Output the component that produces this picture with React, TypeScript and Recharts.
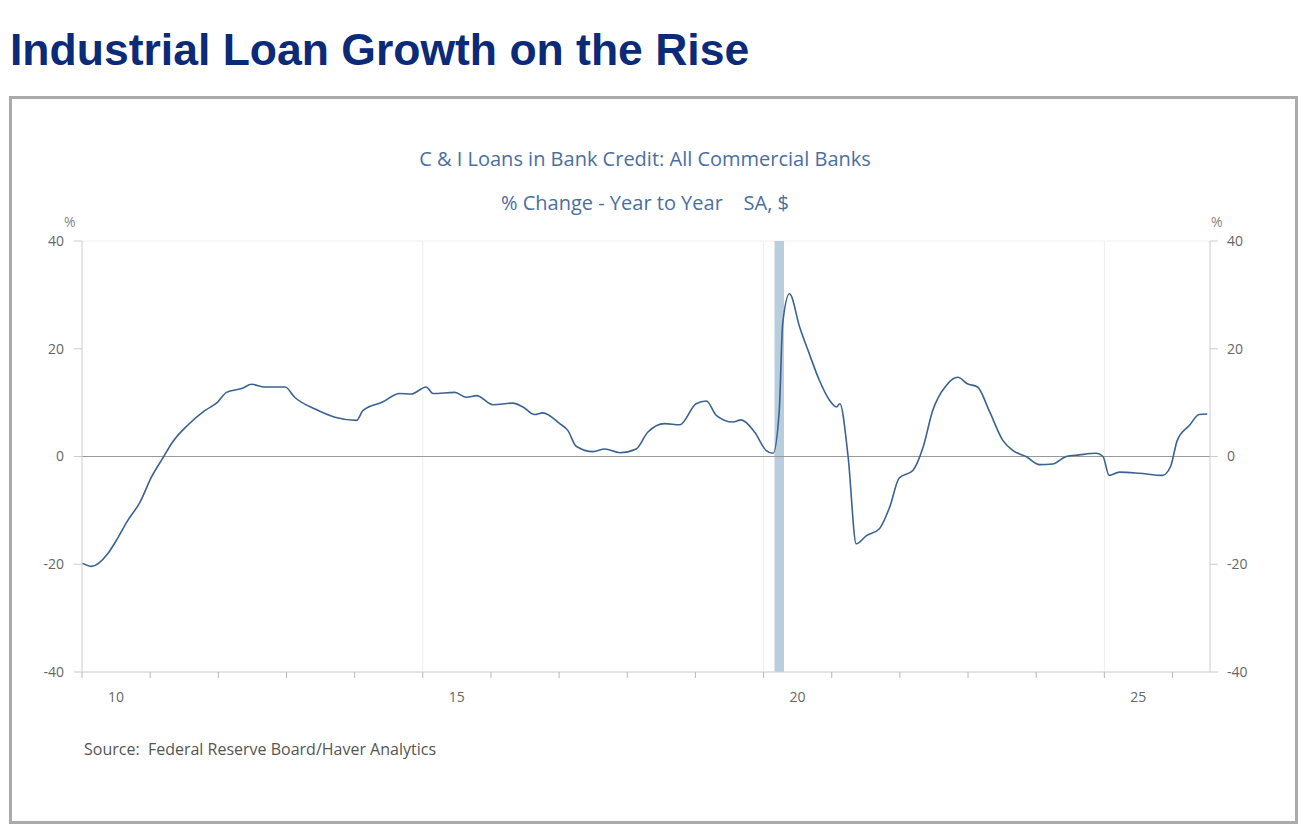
import React from "react";
import {
  LineChart,
  Line,
  XAxis,
  YAxis,
  CartesianGrid,
  ReferenceLine,
  ReferenceArea,
} from "recharts";

// time as decimal year
const dates = [
  2010.0, 2010.14, 2010.38, 2010.53, 2010.67, 2010.85, 2011.02, 2011.19, 2011.33, 2011.55,
  2011.8, 2011.99, 2012.12, 2012.34, 2012.49, 2012.68, 2012.98, 2013.12, 2013.42, 2013.71,
  2014.03, 2014.12, 2014.41, 2014.66, 2014.83, 2015.05, 2015.15, 2015.47, 2015.64, 2015.79,
  2016.03, 2016.32, 2016.47, 2016.64, 2016.76, 2017.01, 2017.13, 2017.25, 2017.5, 2017.67,
  2017.89, 2018.13, 2018.3, 2018.55, 2018.77, 2019.01, 2019.16, 2019.31, 2019.55, 2019.67,
  2019.87, 2020.04, 2020.14, 2020.23, 2020.28, 2020.38, 2020.53, 2020.67, 2020.82, 2020.97,
  2021.07, 2021.12, 2021.24, 2021.36, 2021.51, 2021.7, 2021.85, 2021.99, 2022.19, 2022.34,
  2022.48, 2022.68, 2022.85, 2022.99, 2023.14, 2023.31, 2023.51, 2023.66, 2023.85, 2024.05,
  2024.24, 2024.44, 2024.63, 2024.88, 2024.98, 2025.07, 2025.22, 2025.51, 2025.85, 2025.97,
  2026.07, 2026.25, 2026.39, 2026.51,
];

// C&I loans, % change year to year
const ciLoans = [
  -19.8, -20.4, -18.0, -15.0, -11.9, -8.5, -3.8, -0.2, 2.7, 5.8,
  8.5, 10.1, 11.9, 12.6, 13.4, 12.9, 12.9, 11.0, 8.8, 7.3,
  6.7, 8.5, 10.1, 11.7, 11.6, 12.9, 11.7, 11.9, 11.0, 11.3,
  9.6, 9.9, 9.2, 7.8, 8.1, 6.1, 4.8, 1.9, 0.9, 1.4,
  0.7, 1.4, 4.5, 6.1, 5.9, 9.8, 10.3, 7.6, 6.4, 6.8,
  4.5, 1.1, 0.6, 8.5, 24.6, 30.2, 24.0, 19.1, 14.1, 10.4,
  9.2, 9.8, 0.0, -16.2, -14.7, -13.4, -9.4, -4.0, -2.6, 1.7,
  8.5, 13.2, 14.7, 13.5, 12.9, 8.5, 3.0, 1.1, 0.0, -1.5,
  -1.4, 0.0, 0.3, 0.6, 0.0, -3.5, -2.9, -3.1, -3.5, -1.9,
  3.0, 5.8, 7.8, 7.9,
];

const yearTicks = [2010, 2011, 2012, 2013, 2014, 2015, 2016, 2017, 2018, 2019, 2020, 2021, 2022, 2023, 2024, 2025, 2026];
const labelYears: Record<number, string> = { 2010: "10", 2015: "15", 2020: "20", 2025: "25" };
const gridYears = [2015, 2020, 2025];
const yTicks = [-40, -20, 0, 20, 40];
const recession = [2020.16, 2020.3];

const data = dates.map((t, i) => ({ t, v: ciLoans[i] }));

const font = "'Open Sans', 'Noto Sans', sans-serif";
const tickStyle = { fontSize: 14, fill: "#666", fontFamily: font };
const HALF_YEAR = 34; // labels sit in the middle of the year

function YearTick(props: any) {
  const { x, y, payload } = props;
  const label = labelYears[payload.value];
  return (
    <g>
      <line x1={x} x2={x} y1={y - 8} y2={y - 2} stroke="#b8b8b8" />
      {label ? (
        <text x={x + HALF_YEAR} y={y + 22} textAnchor="middle" {...tickStyle}>
          {label}
        </text>
      ) : null}
    </g>
  );
}

export default function App() {
  return (
    <div style={{ position: "absolute", left: 0, top: 0, width: 1306, height: 832, background: "#fff" }}>
      <div
        style={{
          position: "absolute",
          left: 10,
          top: 25,
          fontFamily: "'Liberation Sans', Arial, sans-serif",
          fontWeight: 700,
          fontSize: 44.5,
          color: "#0b2a78",
          whiteSpace: "nowrap",
        }}
      >
        Industrial Loan Growth on the Rise
      </div>
      <div
        style={{
          position: "absolute",
          left: 9,
          top: 96,
          width: 1283,
          height: 722,
          border: "3px solid #aaa",
        }}
      />
      <div style={{ position: "absolute", left: 0, width: 1290, top: 145, textAlign: "center", fontFamily: font, fontSize: 20, color: "#4a6f9f" }}>
        C &amp; I Loans in Bank Credit: All Commercial Banks
      </div>
      <div style={{ position: "absolute", left: 0, width: 1290, top: 189, textAlign: "center", fontFamily: font, fontSize: 20, color: "#4a6f9f", whiteSpace: "pre" }}>
        {"% Change - Year to Year    SA, $"}
      </div>
      <div style={{ position: "absolute", left: 64, top: 212, fontFamily: font, fontSize: 14, color: "#888" }}>%</div>
      <div style={{ position: "absolute", left: 1211, top: 212, fontFamily: font, fontSize: 14, color: "#888" }}>%</div>
      <div style={{ position: "absolute", left: 84, top: 738, fontFamily: font, fontSize: 16, color: "#555", whiteSpace: "pre" }}>
        {"Source:  Federal Reserve Board/Haver Analytics"}
      </div>

      <div style={{ position: "absolute", left: 0, top: 0 }}>
        <LineChart width={1306} height={832} data={data} margin={{ top: 241, right: 56, bottom: 130, left: 42 }}>
          <CartesianGrid vertical={false} stroke="#f0f0f0" />
          <XAxis
            dataKey="t"
            type="number"
            domain={[2010, 2026.55]}
            ticks={yearTicks}
            allowDataOverflow
            height={30}
            stroke="#d0d0d0"
            tickLine={false}
            tick={<YearTick />}
            interval={0}
          />
          <YAxis
            yAxisId="left"
            domain={[-40, 40]}
            ticks={yTicks}
            width={40}
            stroke="#ccc"
            tickSize={8}
            tick={tickStyle}
            tickMargin={10}
          />
          <YAxis
            yAxisId="right"
            orientation="right"
            domain={[-40, 40]}
            ticks={yTicks}
            width={40}
            stroke="#ccc"
            tickSize={8}
            tick={tickStyle}
            tickMargin={9}
          />
          {gridYears.map((y) => (
            <ReferenceLine key={y} x={y} yAxisId="left" stroke="#eeeeee" />
          ))}
          <ReferenceArea x1={recession[0]} x2={recession[1]} yAxisId="left" fill="#b9cedc" fillOpacity={1} stroke="none" />
          <ReferenceLine y={0} yAxisId="left" stroke="#999" />
          <Line
            yAxisId="right"
            dataKey="v"
            type="monotone"
            stroke="none"
            strokeOpacity={0}
            dot={false}
            activeDot={false}
            legendType="none"
            isAnimationActive={false}
          />
          <Line
            yAxisId="left"
            dataKey="v"
            type="monotone"
            stroke="#3b6391"
            strokeWidth={1.6}
            dot={false}
            isAnimationActive={false}
          />
        </LineChart>
      </div>
    </div>
  );
}
